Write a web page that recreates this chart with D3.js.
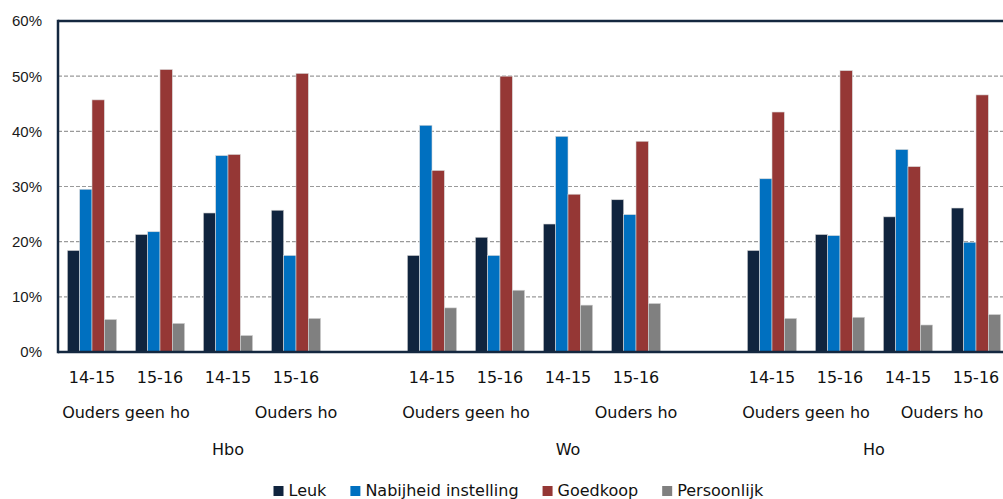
<!DOCTYPE html>
<html>
<head>
<meta charset="utf-8">
<script src="https://cdn.jsdelivr.net/npm/d3@7"></script>
<style>
    body { margin: 0; background: #fff; }
    svg { display: block; }
    .tick-y { font-family: "Liberation Sans", Arial, sans-serif; font-size: 15px; fill: #1a1a1a; }
    .cat { font-family: "DejaVu Sans", sans-serif; font-size: 16px; fill: #111; }
</style>
</head>
<body>
<svg id="chart" width="1003" height="499"></svg>
<script>
// data
var levels = ["Hbo", "Wo", "Ho"];
var parents = ["Ouders geen ho", "Ouders ho"];
var years = ["14-15", "15-16"];
var series = ["Leuk", "Nabijheid instelling", "Goedkoop", "Persoonlijk"];
var colors = ["#10243e", "#0070c0", "#953735", "#808080"];
var yTicks = [0, 10, 20, 30, 40, 50, 60];

// values per category: Hbo (geen ho 14-15, 15-16, ho 14-15, 15-16), Wo (...), Ho (...)
var leuk        = [18.4, 21.3, 25.2, 25.7, 17.5, 20.8, 23.2, 27.6, 18.4, 21.3, 24.5, 26.1];
var nabijheid   = [29.5, 21.8, 35.6, 17.5, 41.1, 17.5, 39.1, 24.9, 31.4, 21.1, 36.7, 19.9];
var goedkoop    = [45.7, 51.2, 35.8, 50.5, 32.9, 50.0, 28.6, 38.2, 43.5, 51.0, 33.6, 46.6];
var persoonlijk = [5.9, 5.2, 3.0, 6.1, 8.0, 11.2, 8.5, 8.8, 6.1, 6.3, 4.9, 6.8];
var values = [leuk, nabijheid, goedkoop, persoonlijk];

var svg = d3.select("#chart");
var margin = { left: 58, top: 21, bottom: 352, right: 1010 };

// build the category slots, an empty slot after Hbo and Wo
var slots = [];
var n = 0;
levels.forEach(function (lvl, li) {
    parents.forEach(function (p) {
        years.forEach(function (yr) {
            slots.push({ key: "s" + slots.length, level: lvl, parent: p, year: yr, idx: n });
            n++;
        });
    });
    if (li < levels.length - 1) {
        slots.push({ key: "s" + slots.length, level: lvl, parent: parents[parents.length - 1], year: "", idx: -1 });
    }
});

var x0 = d3.scaleBand()
    .domain(slots.map(function (d) { return d.key; }))
    .range([margin.left, margin.right]);

var clusterW = x0.bandwidth() * 0.725;
var x1 = d3.scaleBand()
    .domain(series)
    .range([(x0.bandwidth() - clusterW) / 2, (x0.bandwidth() + clusterW) / 2]);

var y = d3.scaleLinear().domain([0, 60]).range([margin.bottom, margin.top]);

// gridlines
svg.append("g").selectAll("line")
    .data(yTicks.filter(function (t) { return t > 0 && t < 60; }))
    .enter().append("line")
    .attr("x1", margin.left).attr("x2", 1003)
    .attr("y1", function (d) { return y(d); })
    .attr("y2", function (d) { return y(d); })
    .attr("stroke", "#9a9a9a")
    .attr("stroke-width", 1.2)
    .attr("stroke-dasharray", "4,2");

// bars
var data = slots.filter(function (s) { return s.idx >= 0; });
var g = svg.append("g");
var groups = g.selectAll("g.cluster")
    .data(data)
    .enter().append("g")
    .attr("class", "cluster")
    .attr("transform", function (d) { return "translate(" + x0(d.key) + ",0)"; });

groups.selectAll("rect")
    .data(function (d) {
        return series.map(function (s, i) { return { s: s, i: i, v: values[i][d.idx] }; });
    })
    .enter().append("rect")
    .attr("x", function (d) { return x1(d.s); })
    .attr("width", x1.bandwidth())
    .attr("y", function (d) { return y(d.v); })
    .attr("height", function (d) { return y(0) - y(d.v); })
    .attr("fill", function (d) { return colors[d.i]; })
    .attr("stroke", "#d8d8d8")
    .attr("stroke-width", 0.6);

// frame
svg.append("line").attr("x1", margin.left).attr("x2", 1003).attr("y1", margin.top).attr("y2", margin.top)
    .attr("stroke", "#142840").attr("stroke-width", 2.5);
svg.append("line").attr("x1", margin.left).attr("x2", margin.left).attr("y1", margin.top - 1.2).attr("y2", margin.bottom + 1.2)
    .attr("stroke", "#142840").attr("stroke-width", 2.5);
svg.append("line").attr("x1", margin.left).attr("x2", 1003).attr("y1", margin.bottom).attr("y2", margin.bottom)
    .attr("stroke", "#142840").attr("stroke-width", 2.5);

// y labels
svg.append("g").selectAll("text")
    .data(yTicks)
    .enter().append("text")
    .attr("class", "tick-y")
    .attr("x", 42)
    .attr("y", function (d) { return y(d); })
    .attr("dy", "0.36em")
    .attr("text-anchor", "end")
    .text(function (d) { return d + "%"; });

// category labels, three rows
function spanCenter(list) {
    var first = x0(list[0].key);
    var last = x0(list[list.length - 1].key) + x0.bandwidth();
    return (first + last) / 2;
}

svg.append("g").selectAll("text")
    .data(slots.filter(function (s) { return s.year !== ""; }))
    .enter().append("text")
    .attr("class", "cat")
    .attr("x", function (d) { return x0(d.key) + x0.bandwidth() / 2; })
    .attr("y", 383)
    .attr("text-anchor", "middle")
    .text(function (d) { return d.year; });

var parentSpans = d3.groups(slots, function (d) { return d.level + "|" + d.parent; });
svg.append("g").selectAll("text")
    .data(parentSpans)
    .enter().append("text")
    .attr("class", "cat")
    .attr("x", function (d) { return spanCenter(d[1]); })
    .attr("y", 417.5)
    .attr("text-anchor", "middle")
    .text(function (d) { return d[1][0].parent; });

var levelSpans = d3.groups(slots, function (d) { return d.level; });
svg.append("g").selectAll("text")
    .data(levelSpans)
    .enter().append("text")
    .attr("class", "cat")
    .attr("x", function (d) { return spanCenter(d[1]); })
    .attr("y", 454.5)
    .attr("text-anchor", "middle")
    .text(function (d) { return d[0]; });

// legend
var legend = svg.append("g");
var lx = 273.5;
series.forEach(function (s, i) {
    legend.append("rect")
        .attr("x", lx).attr("y", 486).attr("width", 10).attr("height", 10)
        .attr("fill", colors[i]);
    var t = legend.append("text")
        .attr("class", "cat")
        .attr("x", lx + 15)
        .attr("y", 496)
        .text(s);
    lx = lx + 15 + t.node().getComputedTextLength() + 24;
});
</script>
</body>
</html>
